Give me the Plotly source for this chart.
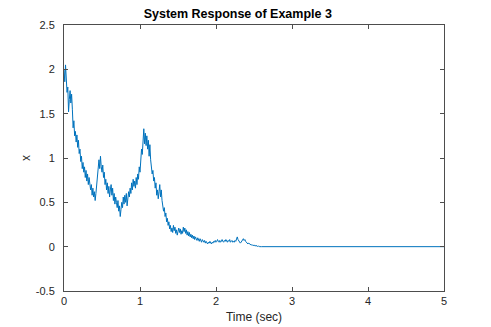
import plotly.graph_objects as go

# sampled response, dt = 0.01 s starting at t = 0
T0 = 0.0
DT = 0.01
x_vals = [
    2.00, 1.86, 2.05, 1.90, 1.74, 1.80, 1.52, 1.66, 1.76, 1.62,
    1.72, 1.55, 1.34, 1.42, 1.25, 1.30, 1.18, 1.26, 1.12, 1.20,
    1.05, 1.10, 0.96, 1.02, 0.88, 0.95, 0.84, 0.90, 0.78, 0.86,
    0.74, 0.82, 0.70, 0.78, 0.72, 0.64, 0.70, 0.58, 0.66, 0.56,
    0.62, 0.52, 0.60, 0.68, 0.76, 0.84, 0.98, 0.88, 1.02, 0.90,
    0.84, 0.92, 0.78, 0.84, 0.70, 0.76, 0.64, 0.72, 0.60, 0.68,
    0.56, 0.64, 0.70, 0.58, 0.66, 0.52, 0.60, 0.48, 0.56, 0.50,
    0.44, 0.52, 0.40, 0.46, 0.34, 0.42, 0.50, 0.44, 0.56, 0.48,
    0.58, 0.50, 0.60, 0.46, 0.54, 0.62, 0.56, 0.66, 0.60, 0.72,
    0.64, 0.76, 0.68, 0.74, 0.66, 0.78, 0.70, 0.82, 0.76, 0.90,
    0.84, 1.02, 1.10, 1.04, 1.22, 1.33, 1.16, 1.28, 1.14, 1.25,
    1.10, 1.20, 1.02, 1.15, 0.98, 0.90, 0.82, 0.86, 0.74, 0.78,
    0.66, 0.72, 0.58, 0.64, 0.54, 0.62, 0.70, 0.56, 0.64, 0.52,
    0.46, 0.40, 0.44, 0.34, 0.38, 0.28, 0.32, 0.24, 0.28, 0.20,
    0.24, 0.17, 0.21, 0.16, 0.24, 0.18, 0.22, 0.15, 0.19, 0.13,
    0.17, 0.21, 0.16, 0.20, 0.14, 0.18, 0.15, 0.22, 0.17, 0.21,
    0.15, 0.19, 0.13, 0.17, 0.12, 0.16, 0.11, 0.14, 0.10, 0.13,
    0.09, 0.12, 0.08, 0.11, 0.09, 0.07, 0.10, 0.08, 0.06, 0.09,
    0.07, 0.05, 0.08, 0.06, 0.05, 0.07, 0.04, 0.06, 0.05, 0.03,
    0.05, 0.04, 0.06, 0.04, 0.03, 0.05, 0.04, 0.06, 0.05, 0.07,
    0.05, 0.06, 0.08, 0.06, 0.05, 0.07, 0.05, 0.06, 0.08, 0.06,
    0.05, 0.07, 0.06, 0.08, 0.06, 0.05, 0.07, 0.06, 0.08, 0.05,
    0.06, 0.07, 0.05, 0.06, 0.05, 0.07, 0.06, 0.08, 0.11, 0.08,
    0.06, 0.05, 0.04, 0.05, 0.06, 0.08, 0.09, 0.07, 0.08, 0.06,
    0.05, 0.04, 0.03, 0.04, 0.03, 0.03, 0.02, 0.02, 0.02, 0.01,
    0.02, 0.01, 0.01, 0.01, 0.01, 0.00, 0.01, 0.00, 0.00, 0.00,
    0.00,
]
# settled tail
tail_t = [2.60, 5.00]
tail_x = [0.0, 0.0]

LINE = '#0072BD'
AXIS = '#4d4d4d'
FONT = 'Liberation Sans, Arial, sans-serif'

fig = go.Figure()
fig.add_trace(go.Scatter(x0=T0, dx=DT, y=x_vals, mode='lines',
                         line=dict(color=LINE, width=1), showlegend=False))
fig.add_trace(go.Scatter(x=tail_t, y=tail_x, mode='lines',
                         line=dict(color=LINE, width=1), showlegend=False))

axis_common = dict(showline=True, linecolor=AXIS, linewidth=1, mirror='ticks',
                   ticks='inside', ticklen=4, tickcolor=AXIS, showgrid=False,
                   zeroline=False, automargin=False,
                   tickfont=dict(family=FONT, size=11, color='#262626'))

# page body has an 8px offset, margins compensate
fig.update_layout(
    width=491, height=327,
    margin=dict(l=56, r=55, t=17, b=44),
    paper_bgcolor='white', plot_bgcolor='white',
    title=dict(text='<b>System Response of Example 3</b>', x=0.468, xanchor='center',
               y=0.982, yanchor='middle', font=dict(family=FONT, size=12.5, color='black')),
    xaxis=dict(range=[0, 5], tickvals=[0, 1, 2, 3, 4, 5],
               title=dict(text='Time (sec)', standoff=6,
                          font=dict(family=FONT, size=12, color='#262626')),
               **axis_common),
    yaxis=dict(range=[-0.5, 2.5], tickvals=[-0.5, 0, 0.5, 1, 1.5, 2, 2.5],
               ticktext=['-0.5', '0', '0.5', '1', '1.5', '2', '2.5'],
               ticklabelstandoff=6,
               title=dict(text='x', standoff=2,
                          font=dict(family=FONT, size=12, color='#262626')),
               **axis_common),
)

fig.write_html('out.html')
